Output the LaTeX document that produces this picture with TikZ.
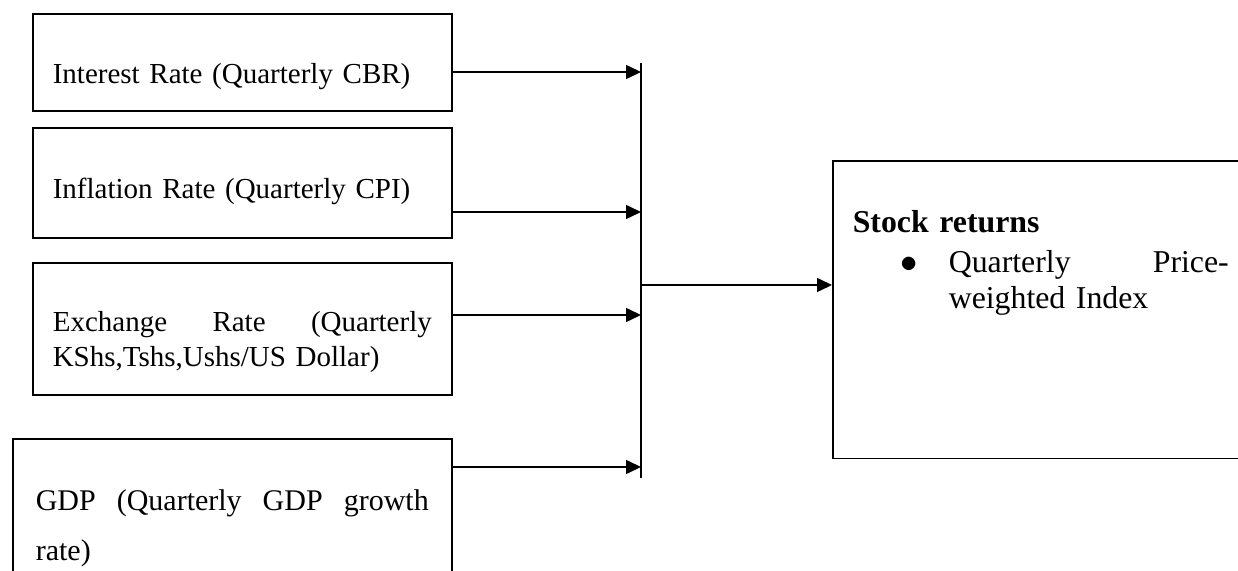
\documentclass[tikz,border=0pt]{standalone}
\usepackage{fontspec}
\setmainfont{Liberation Serif}
\usetikzlibrary{arrows.meta, positioning}

\begin{document}
\begin{tikzpicture}[x=0.5pt, y=-0.5pt,
    box/.style={draw, line width=0.8pt, anchor=north west, inner ysep=0pt, inner xsep=10pt,
        align=left, font=\fontsize{14.5}{17.7}\selectfont},
    arr/.style={line width=0.8pt, -{Triangle[length=7.5pt, width=7pt]}}]
    \useasboundingbox (0,0) rectangle (1238,571);
    % factor boxes
    \node[box, text width=189.5pt, text height=35pt, text depth=13.6pt] (cbr) at (32,13) {Interest Rate (Quarterly CBR)};
    \node[box, text width=189.5pt, text height=35.5pt, text depth=19.5pt] (cpi) at (32,127) {Inflation Rate (Quarterly CPI)};
    \node[box, text width=189.5pt, text height=34.3pt, text depth=31.7pt] (fx) at (32,262)
        {Exchange\hfill Rate\hfill (Quarterly\\KShs,Tshs,Ushs/US Dollar)};
    \node[box, inner xsep=11.5pt, text width=196.5pt, text height=35.7pt, text depth=45pt,
        font=\fontsize{15}{25}\selectfont] (gdp) at (12,438.5)
        {GDP\hfill (Quarterly\hfill GDP\hfill growth\\rate)};
    % outcome box
    \node[box, text width=188pt, text height=35.8pt, text depth=113pt,
        font=\fontsize{15.9}{18}\selectfont] (ret) at (832,160)
        {\textbf{Stock returns}\\[2pt]
         \hspace*{24pt}\makebox[24pt][l]{$\bullet$}Quarterly\hfill Price-\\
         \hspace*{48pt}weighted Index};
    % collecting bar
    \coordinate (bartop) at (641,63);
    \coordinate (barbot) at (641,478);
    \coordinate (b1) at (641,72);
    \coordinate (b2) at (641,212);
    \coordinate (b3) at (641,315);
    \coordinate (b4) at (641,467);
    \coordinate (barmid) at (641,285);
    \draw[line width=0.8pt] (bartop) -- (barbot);
    \draw[arr] (cbr.east |- b1) -- (b1);
    \draw[arr] (cpi.east |- b2) -- (b2);
    \draw[arr] (fx.east |- b3) -- (b3);
    \draw[arr] (gdp.east |- b4) -- (b4);
    \draw[arr] (barmid) -- (ret.west |- barmid);
\end{tikzpicture}
\end{document}
